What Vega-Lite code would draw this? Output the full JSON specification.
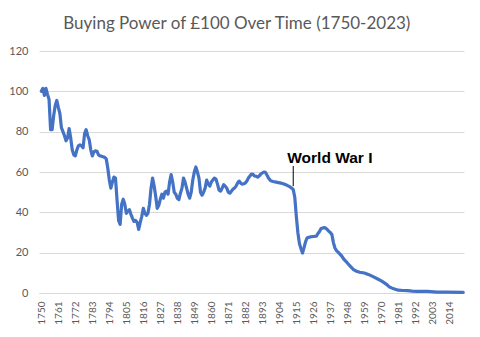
{
  "$schema": "https://vega.github.io/schema/vega-lite/v6.json",
  "width": 425,
  "height": 242,
  "padding": {"left": 8, "top": 15, "right": 14, "bottom": 8},
  "background": "white",
  "title": {
    "text": "Buying Power of £100 Over Time (1750-2023)",
    "font": "Lato",
    "fontSize": 17,
    "fontWeight": "normal",
    "color": "#595959",
    "anchor": "middle",
    "frame": "bounds",
    "offset": 12
  },
  "config": {
    "view": {"stroke": null},
    "axis": {
      "labelFont": "Lato",
      "labelFontSize": 11,
      "labelColor": "#595959",
      "ticks": false,
      "title": null
    },
    "axisX": {"labelOverlap": false, "labelSeparation": 0, "labelAngle": -90, "labelPadding": 8, "labelFontSize": 10, "grid": false, "domain": true, "domainColor": "#d9d9d9", "labelFlush": false},
    "axisY": {"grid": true, "gridColor": "#d9d9d9", "domain": false, "labelPadding": 11}
  },
  "encoding": {
    "x": {
      "field": "year",
      "type": "quantitative",
      "scale": {"domain": [1748.5, 2023.5], "nice": false, "zero": false},
      "axis": {
        "values": [1750, 1761, 1772, 1783, 1794, 1805, 1816, 1827, 1838, 1849, 1860, 1871, 1882, 1893, 1904, 1915, 1926, 1937, 1948, 1959, 1970, 1981, 1992, 2003, 2014],
        "format": "d",
        "labelOverlap": false,
        "labelAngle": 270
      }
    }
  },
  "layer": [
    {
      "data": {
        "values": [
          {"year": 1750, "value": 100}, {"year": 1751, "value": 101.5}, {"year": 1752, "value": 98}, {"year": 1753, "value": 101.5}, {"year": 1754, "value": 98.5}, {"year": 1755, "value": 96},
          {"year": 1756, "value": 81}, {"year": 1757, "value": 81}, {"year": 1758, "value": 88}, {"year": 1759, "value": 93}, {"year": 1760, "value": 95.5},
          {"year": 1761, "value": 92}, {"year": 1762, "value": 89}, {"year": 1763, "value": 82}, {"year": 1764, "value": 80}, {"year": 1765, "value": 78},
          {"year": 1766, "value": 75.5}, {"year": 1767, "value": 77}, {"year": 1768, "value": 81.5}, {"year": 1769, "value": 77}, {"year": 1770, "value": 71},
          {"year": 1771, "value": 68.5}, {"year": 1772, "value": 68}, {"year": 1773, "value": 71}, {"year": 1774, "value": 73}, {"year": 1775, "value": 73.5},
          {"year": 1776, "value": 73}, {"year": 1777, "value": 72}, {"year": 1778, "value": 79}, {"year": 1779, "value": 81}, {"year": 1780, "value": 78},
          {"year": 1781, "value": 76}, {"year": 1782, "value": 71}, {"year": 1783, "value": 68}, {"year": 1784, "value": 70}, {"year": 1785, "value": 70.5},
          {"year": 1786, "value": 70.3}, {"year": 1787, "value": 68.5}, {"year": 1788, "value": 68}, {"year": 1789, "value": 67.8}, {"year": 1790, "value": 67.5},
          {"year": 1791, "value": 67.3}, {"year": 1792, "value": 66.5}, {"year": 1793, "value": 62}, {"year": 1794, "value": 56}, {"year": 1795, "value": 52},
          {"year": 1796, "value": 55}, {"year": 1797, "value": 57.5}, {"year": 1798, "value": 57}, {"year": 1799, "value": 46}, {"year": 1800, "value": 36},
          {"year": 1801, "value": 34}, {"year": 1802, "value": 44}, {"year": 1803, "value": 46.5}, {"year": 1804, "value": 44}, {"year": 1805, "value": 39.5},
          {"year": 1806, "value": 40.5}, {"year": 1807, "value": 41.3}, {"year": 1808, "value": 39}, {"year": 1809, "value": 37}, {"year": 1810, "value": 35.5},
          {"year": 1811, "value": 36}, {"year": 1812, "value": 35}, {"year": 1813, "value": 31.5}, {"year": 1814, "value": 35}, {"year": 1815, "value": 38},
          {"year": 1816, "value": 42}, {"year": 1817, "value": 39.5}, {"year": 1818, "value": 38.5}, {"year": 1819, "value": 39.5}, {"year": 1820, "value": 44},
          {"year": 1821, "value": 52}, {"year": 1822, "value": 57}, {"year": 1823, "value": 53}, {"year": 1824, "value": 48}, {"year": 1825, "value": 42},
          {"year": 1826, "value": 43.5}, {"year": 1827, "value": 46.5}, {"year": 1828, "value": 49}, {"year": 1829, "value": 47}, {"year": 1830, "value": 50},
          {"year": 1831, "value": 50.5}, {"year": 1832, "value": 49}, {"year": 1833, "value": 55}, {"year": 1834, "value": 58.7}, {"year": 1835, "value": 55},
          {"year": 1836, "value": 50}, {"year": 1837, "value": 49}, {"year": 1838, "value": 47}, {"year": 1839, "value": 46.3}, {"year": 1840, "value": 49.5},
          {"year": 1841, "value": 52}, {"year": 1842, "value": 57}, {"year": 1843, "value": 55}, {"year": 1844, "value": 52}, {"year": 1845, "value": 49},
          {"year": 1846, "value": 47}, {"year": 1847, "value": 50}, {"year": 1848, "value": 56}, {"year": 1849, "value": 60}, {"year": 1850, "value": 62.5},
          {"year": 1851, "value": 60}, {"year": 1852, "value": 57}, {"year": 1853, "value": 50}, {"year": 1854, "value": 48.5}, {"year": 1855, "value": 50},
          {"year": 1856, "value": 52}, {"year": 1857, "value": 56}, {"year": 1858, "value": 54}, {"year": 1859, "value": 53}, {"year": 1860, "value": 55},
          {"year": 1861, "value": 56}, {"year": 1862, "value": 57}, {"year": 1863, "value": 56.5}, {"year": 1864, "value": 54}, {"year": 1865, "value": 51},
          {"year": 1866, "value": 50.5}, {"year": 1867, "value": 52}, {"year": 1868, "value": 53.7}, {"year": 1869, "value": 53}, {"year": 1870, "value": 52},
          {"year": 1871, "value": 50}, {"year": 1872, "value": 49.5}, {"year": 1873, "value": 50.5}, {"year": 1874, "value": 51.5}, {"year": 1875, "value": 52},
          {"year": 1876, "value": 53}, {"year": 1877, "value": 54.5}, {"year": 1878, "value": 55.5}, {"year": 1879, "value": 54.5}, {"year": 1880, "value": 54},
          {"year": 1881, "value": 54.2}, {"year": 1882, "value": 54.5}, {"year": 1883, "value": 55.5}, {"year": 1884, "value": 57}, {"year": 1885, "value": 58},
          {"year": 1886, "value": 59}, {"year": 1887, "value": 58.8}, {"year": 1888, "value": 58}, {"year": 1889, "value": 57.9}, {"year": 1890, "value": 57.5},
          {"year": 1891, "value": 58}, {"year": 1892, "value": 59}, {"year": 1893, "value": 59.5}, {"year": 1894, "value": 60}, {"year": 1895, "value": 59.8},
          {"year": 1896, "value": 58.5}, {"year": 1897, "value": 57}, {"year": 1898, "value": 56}, {"year": 1899, "value": 55.5}, {"year": 1900, "value": 55.3},
          {"year": 1902, "value": 55}, {"year": 1905, "value": 54.5}, {"year": 1907, "value": 54}, {"year": 1909, "value": 53.4}, {"year": 1911, "value": 52.6},
          {"year": 1912, "value": 52}, {"year": 1913, "value": 51.3}, {"year": 1914, "value": 47.5}, {"year": 1915, "value": 38}, {"year": 1916, "value": 30},
          {"year": 1917, "value": 24.5}, {"year": 1918, "value": 22}, {"year": 1919, "value": 19.8}, {"year": 1920, "value": 22.5}, {"year": 1921, "value": 25.5},
          {"year": 1922, "value": 27.3}, {"year": 1923, "value": 27.6}, {"year": 1924, "value": 27.8}, {"year": 1926, "value": 28}, {"year": 1928, "value": 28.2},
          {"year": 1929, "value": 29.5}, {"year": 1930, "value": 30.5}, {"year": 1931, "value": 32}, {"year": 1933, "value": 32.4}, {"year": 1934, "value": 32.2},
          {"year": 1935, "value": 31.5}, {"year": 1936, "value": 30.6}, {"year": 1937, "value": 30}, {"year": 1938, "value": 29}, {"year": 1939, "value": 25},
          {"year": 1940, "value": 22.3}, {"year": 1941, "value": 21}, {"year": 1942, "value": 20.3}, {"year": 1944, "value": 18.7}, {"year": 1946, "value": 16.5},
          {"year": 1948, "value": 14.9}, {"year": 1950, "value": 13.2}, {"year": 1952, "value": 11.6}, {"year": 1954, "value": 10.8}, {"year": 1956, "value": 10.3},
          {"year": 1959, "value": 9.9}, {"year": 1962, "value": 9.1}, {"year": 1965, "value": 8}, {"year": 1968, "value": 6.8}, {"year": 1970, "value": 6},
          {"year": 1972, "value": 5}, {"year": 1974, "value": 3.9}, {"year": 1975, "value": 3.1}, {"year": 1977, "value": 2.4}, {"year": 1979, "value": 1.9},
          {"year": 1981, "value": 1.4}, {"year": 1984, "value": 1.25}, {"year": 1987, "value": 1.15}, {"year": 1990, "value": 0.95}, {"year": 1993, "value": 0.85},
          {"year": 2000, "value": 0.8}, {"year": 2004, "value": 0.6}, {"year": 2006, "value": 0.45}, {"year": 2012, "value": 0.4}, {"year": 2023, "value": 0.35}
        ]
      },
      "mark": {"type": "line", "color": "#4472C4", "strokeWidth": 3.2, "strokeJoin": "round", "strokeCap": "round"},
      "encoding": {
        "y": {
          "field": "value",
          "type": "quantitative",
          "scale": {"domain": [0, 120], "nice": false},
          "axis": {"values": [0, 20, 40, 60, 80, 100, 120]}
        }
      }
    },
    {
      "data": {"values": [{"year": 1913, "lo": 53, "hi": 63, "label": "World War I"}]},
      "mark": {"type": "rule", "color": "black", "strokeWidth": 1},
      "encoding": {
        "y": {"field": "lo", "type": "quantitative"},
        "y2": {"field": "hi"}
      }
    },
    {
      "data": {"values": [{"year": 1913, "lo": 53, "hi": 63, "label": "World War I"}]},
      "mark": {"type": "text", "font": "Liberation Sans", "fontWeight": "bold", "fontSize": 15.5, "color": "black", "align": "left", "baseline": "alphabetic", "dx": -6, "dy": -3},
      "encoding": {
        "y": {"field": "hi", "type": "quantitative"},
        "text": {"field": "label"}
      }
    }
  ]
}
